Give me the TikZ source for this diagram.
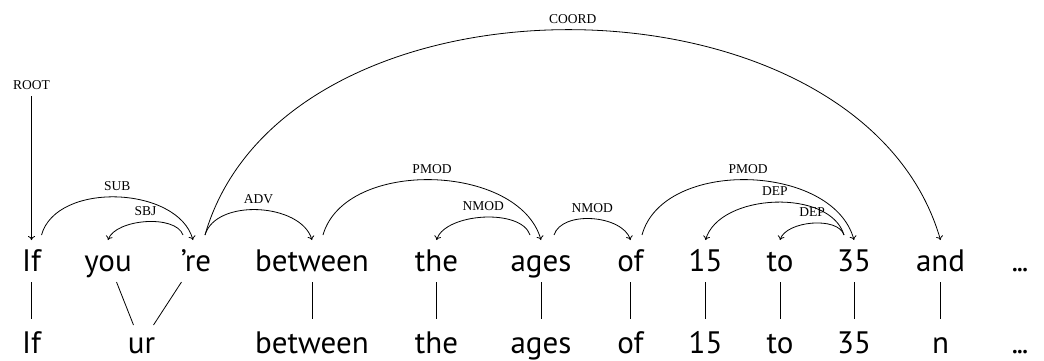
\documentclass[tikz,border=0pt]{standalone}
\usepackage{fontspec}
\setmainfont{PT Sans}
\newfontfamily\labfont{Liberation Serif}
\usetikzlibrary{arrows.meta,calc}
\newcommand{\mydots}{.\kern-1.5pt.\kern-1.5pt.}
\begin{document}
\begin{tikzpicture}[x=1pt,y=-1pt,
  word/.style={anchor=base,inner sep=0pt,font=\fontsize{31}{31}\selectfont},
  lab/.style={font=\labfont\fontsize{13.5}{14}\selectfont,inner sep=1pt},
  arcl/.style={draw,line width=0.8pt,-{To[length=4pt,width=7pt]}},
  tie/.style={draw,line width=0.8pt}]
\useasboundingbox (0,0) rectangle (1044,361);
% top row
\node[word] (w1) at (31.5,271) {If};
\node[word] (w2) at (108,271) {you};
\node[word] (w3) at (196,271) {’re};
\node[word] (w4) at (312,271) {between};
\node[word] (w5) at (436.5,271) {the};
\node[word] (w6) at (541,271) {ages};
\node[word] (w7) at (630.5,271) {of};
\node[word] (w8) at (705.5,271) {15};
\node[word] (w9) at (780,271) {to};
\node[word] (w10) at (854,271) {35};
\node[word] (w11) at (940.5,271) {and};
\node[word] (w12) at (1020,271) {\mydots};
% bottom row
\node[word] (b1) at (31.5,353) {If};
\node[word] (b2) at (141.5,353) {ur};
\node[word] (b4) at (312,353) {between};
\node[word] (b5) at (436.5,353) {the};
\node[word] (b6) at (541,353) {ages};
\node[word] (b7) at (630.5,353) {of};
\node[word] (b8) at (705.5,353) {15};
\node[word] (b9) at (780,353) {to};
\node[word] (b10) at (854,353) {35};
\node[word] (b11) at (940.5,353) {n};
\node[word] (b12) at (1020,353) {\mydots};
% alignment ties
\foreach \i in {1,4,5,6,7,8,9,10,11}{
  \draw[tie] ($(w\i.base)+(0,11)$) -- ($(b\i.base)+(0,-34)$);
}
\draw[tie] ($(w2.base)+(8.5,11)$) -- ($(b2.base)+(-8,-28)$);
\draw[tie] ($(w3.base)+(-14.5,11)$) -- ($(b2.base)+(12,-28)$);
% ROOT
\node[lab,anchor=south] (root) at (31.5,91) {ROOT};
\draw[arcl] ([yshift=-5pt]root.south) -- ($(w1.base)+(0,-31)$);
% arcs
\draw[arcl] ($(w1.base)+(10,-36)$) .. controls +(15,-54) and +(-15,-54) .. ($(w3.base)+(-3,-31)$)
  node[lab,pos=0.5,above=5pt] {SUB};
\draw[arcl] ($(w3.base)+(-13,-36)$) .. controls +(-7.5,-21) and +(7.5,-21) .. ($(w2.base)+(0,-31)$)
  node[lab,pos=0.5,above=5pt] {SBJ};
\draw[arcl] ($(w3.base)+(9,-36)$) .. controls +(11,-37) and +(-11,-37) .. ($(w4.base)+(0,-31)$)
  node[lab,pos=0.5,above=5pt] {ADV};
\draw[arcl] ($(w3.base)+(9,-36)$) .. controls +(80,-277) and +(-80,-277) .. ($(w11.base)+(0,-31)$)
  node[lab,pos=0.5,above=5pt] {COORD};
\draw[arcl] ($(w4.base)+(11,-36)$) .. controls +(22,-77) and +(-22,-77) .. ($(w6.base)+(0,-31)$)
  node[lab,pos=0.5,above=5pt] {PMOD};
\draw[arcl] ($(w6.base)+(-11,-36)$) .. controls +(-9,-27) and +(9,-27) .. ($(w5.base)+(0,-31)$)
  node[lab,pos=0.5,above=5pt] {NMOD};
\draw[arcl] ($(w6.base)+(13,-36)$) .. controls +(8,-25) and +(-8,-25) .. ($(w7.base)+(0,-31)$)
  node[lab,pos=0.5,above=5pt] {NMOD};
\draw[arcl] ($(w7.base)+(11.5,-36)$) .. controls +(21,-77) and +(-21,-77) .. ($(w10.base)+(0,-31)$)
  node[lab,pos=0.5,above=5pt] {PMOD};
\draw[arcl] ($(w10.base)+(-10,-36)$) .. controls +(-14,-47) and +(14,-47) .. ($(w8.base)+(0,-31)$)
  node[lab,pos=0.5,above=5pt] {DEP};
\draw[arcl] ($(w10.base)+(-10,-36)$) .. controls +(-6,-19) and +(6,-19) .. ($(w9.base)+(0,-31)$)
  node[lab,pos=0.5,above=5pt] {DEP};
\end{tikzpicture}
\end{document}
